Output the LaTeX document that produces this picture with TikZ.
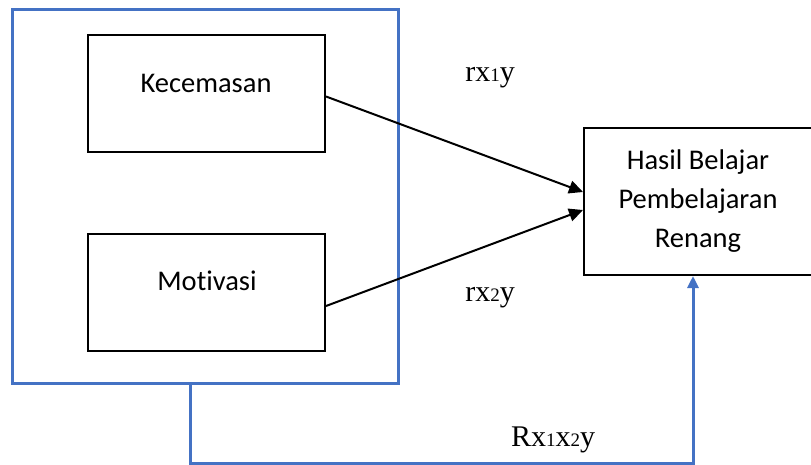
\documentclass[tikz,border=0pt]{standalone}
\usepackage{fontspec}
\setmainfont{Liberation Serif}
\newfontfamily\calibri[Ligatures=NoCommon]{Carlito}
\usetikzlibrary{arrows.meta,positioning}
\definecolor{officeblue}{HTML}{4472C4}
\newcommand{\smalldigit}[1]{{\fontsize{19}{19}\selectfont #1}}
\begin{document}
\begin{tikzpicture}[x=1pt,y=-1pt,
  varbox/.style={draw,line width=2pt,minimum width=237pt,minimum height=117pt,inner sep=0pt},
  boxtext/.style={font=\calibri\fontsize{28.5}{39}\selectfont,align=center},
  coef/.style={font=\fontsize{30}{32}\selectfont}]
\useasboundingbox (0,0) rectangle (811,465);
\node[draw=officeblue,line width=3pt,minimum width=386pt,minimum height=373pt,inner sep=0pt](grp) at (205,196.5){};
\node[varbox](kec) at (206.5,93.5){};
\node[boxtext](kectext) at (206,83){Kecemasan};
\node[varbox](mot) at (206.5,292.5){};
\node[boxtext](mottext) at (207,281){Motivasi};
\node[varbox,minimum width=228pt,minimum height=147pt,boxtext](hasil) at (698,201.5){Hasil Belajar\\Pembelajaran\\Renang};
\node[coef](r1) at (490,78){rx\smalldigit{1}y};
\node[coef](r2) at (490,298){rx\smalldigit{2}y};
\node[coef](r12) at (553,440){Rx\smalldigit{1}x\smalldigit{2}y};
\draw[line width=2pt,-{Triangle[length=14pt,width=13pt]}]([yshift=-3pt]kec.east)--([yshift=9.5pt]hasil.west);
\draw[line width=2pt,-{Triangle[length=14pt,width=13pt]}]([yshift=-13.5pt]mot.east)--([yshift=-8.5pt]hasil.west);
\draw[officeblue,line width=3pt,-{Triangle[length=12pt,width=11pt]}]([xshift=-15pt]grp.south)--++(0,79)-|([xshift=-5pt]hasil.south);
\end{tikzpicture}
\end{document}
